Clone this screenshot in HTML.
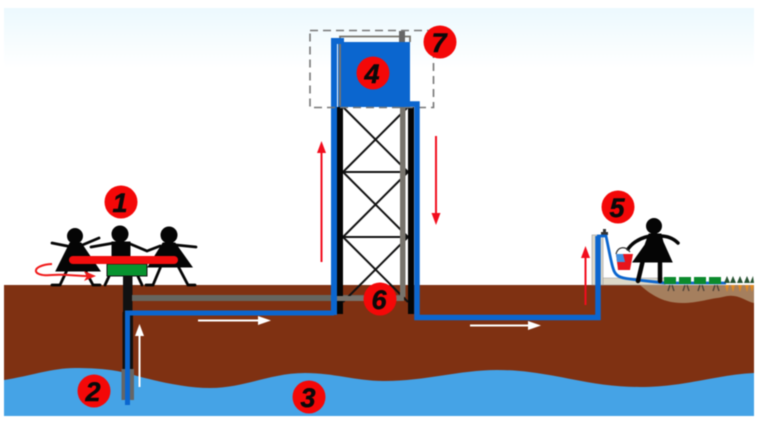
<!DOCTYPE html>
<html><head><meta charset="utf-8"><style>
html,body{margin:0;padding:0;background:#fff}
svg{display:block;filter:blur(.45px)}
text{font-family:"Liberation Sans",sans-serif;font-weight:700;font-style:italic;font-size:27px;fill:#0a0a0a;stroke:#0a0a0a;stroke-width:.5;text-anchor:middle}
</style></head><body>
<svg width="759" height="421" viewBox="0 0 759 421" xmlns="http://www.w3.org/2000/svg">
<defs><linearGradient id="sky" x1="0" y1="0" x2="0" y2="1"><stop offset="0" stop-color="#ecf9fe"/><stop offset="1" stop-color="#fff"/></linearGradient></defs>
<rect width="759" height="421" fill="#fff"/>
<rect x="4" y="8" width="750" height="60" fill="url(#sky)"/>
<!-- ground -->
<rect x="4" y="285" width="750" height="110" fill="#7f3112"/>
<path d="M640 285C652 296 665 303 682 303C698 303 708 299 717 298C724 297 728 295 734 296C742 297 748 302 754 303V285Z" fill="#a57f5e"/>
<!-- water -->
<path d="M4 380C30 376 52 368 75 368C100 368 115 370 130 374C155 381 185 388 210 388C245 388 270 373 305 373C335 373 355 381 385 381C425 381 460 370 497 370C550 370 585 387 640 387C685 387 715 375 754 373V416H4Z" fill="#45a3e6"/>
<!-- left well -->
<rect x="123" y="276" width="9.500" height="36" fill="#111"/>
<rect x="122.500" y="312" width="10.500" height="88" fill="#111"/>
<rect x="121.500" y="369" width="4" height="31" fill="#666"/>
<rect x="130" y="369" width="4" height="31" fill="#666"/>
<rect x="132" y="295" width="268" height="6" fill="#666660"/>
<path d="M127.500 405V313H334" fill="none" stroke="#0b66cf" stroke-width="5"/>
<!-- tower lattice -->
<g stroke="#111" stroke-width="2" fill="none">
<path d="M343 107L408 172M408 107L343 172M343 172H408M343 172L408 237M408 172L343 237M343 237H408M343 237L408 302M408 237L343 302"/>
</g>
<rect x="336" y="107" width="7" height="207" fill="#050505"/>
<rect x="408" y="107" width="6" height="207" fill="#050505"/>
<rect x="400" y="107" width="5.500" height="190" fill="#77736c"/>
<rect x="337" y="296" width="67" height="5" fill="#77736c"/>
<!-- tank -->
<rect x="338" y="42" width="72" height="65" fill="#0b66cf"/>
<path d="M340 106V36.500H410V42" fill="none" stroke="#77736c" stroke-width="1.800"/>
<rect x="399" y="31" width="6" height="11" fill="#666"/>
<rect x="337" y="38" width="7" height="6" fill="#0b66cf"/>
<rect x="331" y="38" width="6" height="277" fill="#0b66cf"/>
<rect x="310" y="30.500" width="123.500" height="77" fill="none" stroke="#777" stroke-width="1.600" stroke-dasharray="8 5"/>
<!-- tap concrete -->
<rect x="592" y="235" width="11" height="50" fill="#ddd8c8" stroke="#999" stroke-width=".6"/>
<path d="M603 278H665V285H603Z" fill="#ddd8c8" stroke="#999" stroke-width=".5"/>
<!-- outflow -->
<path d="M403 104H417V317.500H598V236" fill="none" stroke="#0b66cf" stroke-width="5.500"/>
<rect x="601" y="232" width="7" height="3" fill="#333"/>
<rect x="603" y="229" width="3" height="4" fill="#333"/>
<path d="M597 236H606C609 250 611 262 613 268C615 276 620 278 630 279C645 281 655 282 665 283H726" fill="none" stroke="#0b66cf" stroke-width="2.800"/>
<!-- main figures left -->
<g fill="#050505" stroke="#050505">
<circle cx="75" cy="236" r="7.500"/><circle cx="120" cy="234" r="8"/><circle cx="169" cy="235" r="8"/>
<path d="M70 243H81L100 271H56Z"/><path d="M112 242H130V258H112Z"/><path d="M163 243H175L192 267H148Z"/>
<g stroke-width="2.800" fill="none" stroke-linecap="round">
<path d="M52 243L72 247M80 246L99 238"/>
<path d="M91 247L114 243M128 243L147 251L160 246M176 245L196 247"/>
<path d="M68 268L60 285H52M84 268L93 285H100"/>
<path d="M111 272L105 285M136 272L142 285"/>
<path d="M161 266L153 285H146M178 266L188 285H195"/>
</g></g>
<rect x="107" y="264" width="40" height="12" fill="#07932f" stroke="#111" stroke-width="1"/>
<rect x="69" y="256" width="109" height="8" rx="4" fill="#f20d0d"/>
<!-- rotation arrow -->
<path d="M52 264C31 265 30 277 52 275C66 274 75 276 88 276" fill="none" stroke="#f01a1a" stroke-width="2"/>
<path d="M96 276L84 271L87 276L84 281Z" fill="#f01a1a"/>
<!-- woman right -->
<g fill="#050505" stroke="#050505">
<circle cx="654" cy="226" r="7.500"/>
<path d="M649 234H661L663 242L672 262H633L645 245Z"/>
<g stroke-width="3.500" fill="none" stroke-linecap="round">
<path d="M650 236C640 238 633 242 628 249M660 236C667 236 673 238 678 243"/>
<path stroke-width="4.500" d="M643 260L638 281M660 260L660 281"/>
</g></g>
<path d="M616 254C618 246 626 246 630 252" fill="none" stroke="#333" stroke-width="1.300"/>
<path d="M616 254H633L630 270H618Z" fill="#e8141c"/>
<path d="M616 254H623L625 262H617Z" fill="#3f8fe0"/>
<!-- plants -->
<g fill="#0a8a2c">
<rect x="664" y="277" width="12" height="7"/><rect x="679" y="277" width="12" height="7"/><rect x="694" y="277" width="12" height="7"/><rect x="709" y="277" width="12" height="7"/>
</g>
<g stroke="#4a4038" stroke-width="1.300" fill="none">
<path d="M670 285L668 291M672 285L674 291M685 285L683 291M687 285L689 291M700 285L698 291M702 285L704 291M715 285L713 291M717 285L719 291"/>
</g>
<g fill="#24512f">
<path d="M727 276L730 283H724Z"/><path d="M733 276L736 283H730Z"/><path d="M740 276L743 283H737Z"/><path d="M747 276L750 283H744Z"/><path d="M753 276L754 283H750Z"/>
</g>
<g fill="#e08a24">
<path d="M725 285H729L727 292Z"/><path d="M731 285H735L733 292Z"/><path d="M738 285H742L740 292Z"/><path d="M745 285H749L747 292Z"/><path d="M750 285H754L752 292Z"/>
</g>
<!-- arrows -->
<g fill="none" stroke="#f20d1d" stroke-width="2">
<path d="M321.500 262V150"/><path d="M436 136V216"/><path d="M585.500 305V255"/>
</g>
<g fill="#f20d1d">
<path d="M321.500 141L317 153H326Z"/><path d="M436 225L431.500 213H440.500Z"/><path d="M585.500 246L581 258H590Z"/>
</g>
<g fill="none" stroke="#fff" stroke-width="2">
<path d="M198 320.500H260"/><path d="M470 325.500H530"/><path d="M139.500 387V335"/>
</g>
<g fill="#fff">
<path d="M271 320.500L258 316V325Z"/><path d="M541 325.500L528 321V330Z"/><path d="M139.500 324L135 336H144Z"/>
</g>
<!-- badges -->
<g fill="#f40808">
<circle cx="121" cy="202" r="16.500"/><circle cx="94" cy="391" r="16.500"/><circle cx="309" cy="397" r="16.500"/><circle cx="373" cy="73" r="16.500"/><circle cx="618" cy="207" r="16.500"/><circle cx="380" cy="299" r="16.500"/><circle cx="440" cy="42" r="16.500"/>
</g>
<text x="120" y="212">1</text><text x="93" y="401">2</text><text x="308" y="407">3</text><text x="372" y="83">4</text><text x="617" y="217">5</text><text x="379" y="309">6</text><text x="439" y="52">7</text>
</svg>
</body></html>
